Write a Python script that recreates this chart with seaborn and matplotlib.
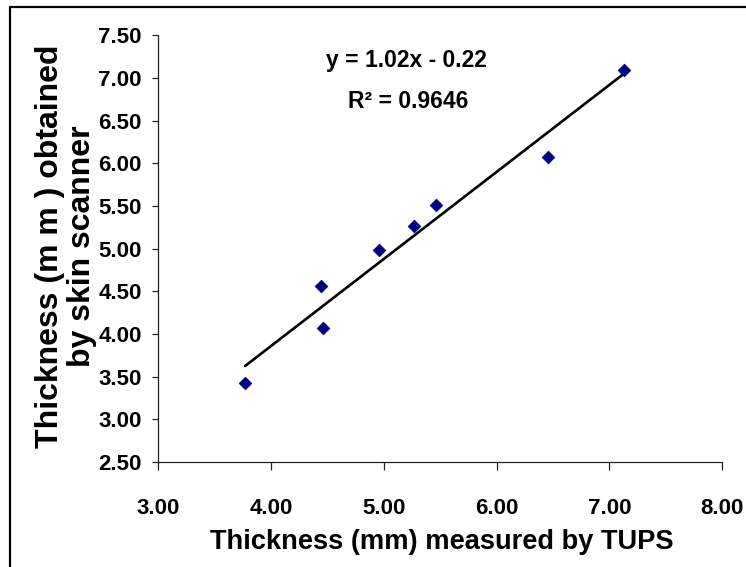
import matplotlib
matplotlib.use("Agg")
import matplotlib.pyplot as plt
from matplotlib.lines import Line2D
import seaborn as sns
import pandas as pd

# ---- data ----
tups_mm = [3.77, 4.44, 4.46, 4.96, 5.27, 5.46, 6.46, 7.13]
scanner_mm = [3.43, 4.56, 4.07, 4.99, 5.27, 5.51, 6.07, 7.10]
slope = 1.02
intercept = -0.22
r_squared = 0.9646
x_ticks = [3.00, 4.00, 5.00, 6.00, 7.00, 8.00]
y_ticks = [2.50, 3.00, 3.50, 4.00, 4.50, 5.00, 5.50, 6.00, 6.50, 7.00, 7.50]
x_label = "Thickness (mm) measured by TUPS"
y_label = "Thickness (m m ) obtained\nby skin scanner"

df = pd.DataFrame({"x": tups_mm, "y": scanner_mm})
x_lo, x_hi = min(tups_mm), max(tups_mm)
trend = pd.DataFrame({"x": [x_lo, x_hi],
                      "y": [slope * x_lo + intercept, slope * x_hi + intercept]})

sns.set_theme(style="white")
plt.rcParams["font.family"] = ["Liberation Sans", "DejaVu Sans"]
plt.rcParams["font.weight"] = "bold"
plt.rcParams["text.color"] = "black"
plt.rcParams["xtick.color"] = "black"
plt.rcParams["ytick.color"] = "black"
plt.rcParams["axes.labelcolor"] = "black"

fig = plt.figure(figsize=(7.46, 5.67), dpi=100)
ax = fig.add_axes([158.3 / 746, 1 - 462 / 567, (722 - 158.3) / 746, (462 - 35.5) / 567])

sns.lineplot(data=trend, x="x", y="y", ax=ax, color="black", linewidth=1.9)
sns.scatterplot(data=df, x="x", y="y", ax=ax, marker="D", s=42,
                color="#000080", edgecolor="#000080", linewidth=0.5, zorder=3)

ax.set_xlim(3.0, 8.0)
ax.set_ylim(2.5, 7.5)
ax.set_xticks(x_ticks)
ax.set_yticks(y_ticks)
ax.set_xticklabels([f"{v:.2f}" for v in x_ticks])
ax.set_yticklabels([f"{v:.2f}" for v in y_ticks])

for side in ["top", "right"]:
    ax.spines[side].set_visible(False)
for side in ["left", "bottom"]:
    ax.spines[side].set_color("#222222")
    ax.spines[side].set_linewidth(0.9)

ax.tick_params(axis="x", direction="out", length=5.8, width=0.9, color="#222222",
               pad=20, labelsize=16, bottom=True, labelcolor="black")
ax.tick_params(axis="y", direction="out", length=4.3, width=0.9, color="#222222",
               pad=7.5, labelsize=16, left=True, labelcolor="black")
for lab in ax.get_xticklabels() + ax.get_yticklabels():
    lab.set_fontweight("bold")

ax.set_xlabel(x_label, fontsize=19.6, fontweight="bold", color="black")
ax.set_ylabel(y_label, fontsize=23, fontweight="bold", linespacing=1.12, color="black")
ax.xaxis.set_label_coords(0.503, -0.156)
ax.yaxis.set_label_coords(-0.108, 0.505)

ax.text(0.441, 1 - (61 - 35.5) / (462 - 35.5),
        f"y = {slope:.2f}x - {abs(intercept):.2f}",
        transform=ax.transAxes, ha="center", va="center",
        fontsize=16.5, fontweight="bold", color="black")
ax.text(0.443, 1 - (101 - 35.5) / (462 - 35.5),
        f"R\u00b2 = {r_squared:.4f}",
        transform=ax.transAxes, ha="center", va="center",
        fontsize=16.5, fontweight="bold", color="black")

# outer chart-area frame (only top and left edges visible in the crop)
fig.add_artist(Line2D([10 / 746, 1.0], [1 - 7 / 567, 1 - 7 / 567],
                      transform=fig.transFigure, color="black", linewidth=1.6))
fig.add_artist(Line2D([10 / 746, 10 / 746], [0.0, 1 - 7 / 567],
                      transform=fig.transFigure, color="black", linewidth=1.6))

fig.savefig("out.png", dpi=100)
